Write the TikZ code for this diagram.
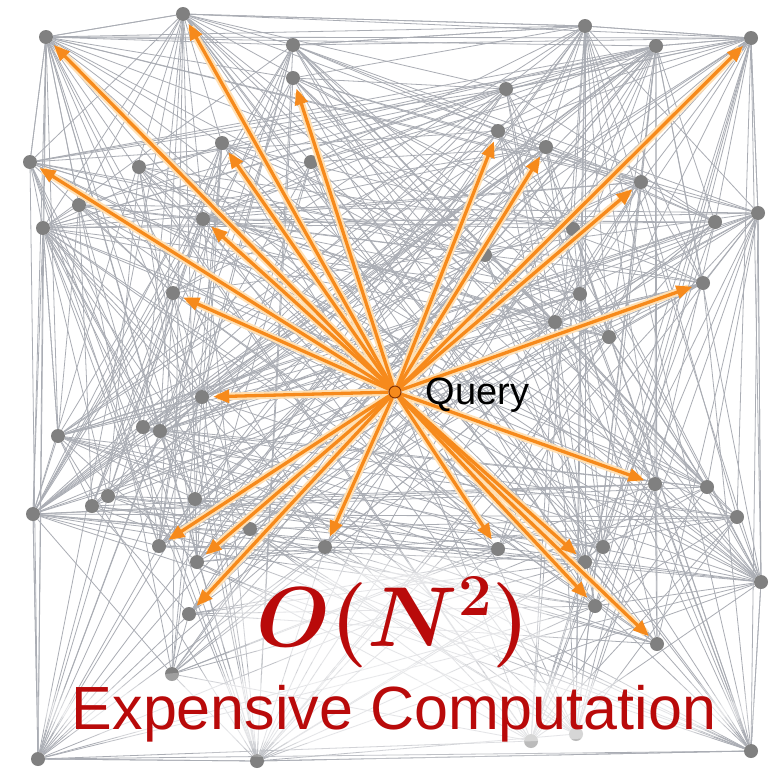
\RequirePackage{fix-cm}
\documentclass[tikz,border=0pt]{standalone}
\usepackage{fontspec}
\newfontfamily\arial{Liberation Sans}
\usetikzlibrary{arrows.meta}
\pgfdeclarelayer{bg}
\pgfdeclarelayer{edges}
\pgfdeclarelayer{glow}
\pgfdeclarelayer{arrowlayer}
\pgfdeclarelayer{front}
\pgfsetlayers{bg,edges,main,glow,arrowlayer,front}
\definecolor{nodegray}{RGB}{128,128,128}
\definecolor{edgegray}{RGB}{170,173,180}
\definecolor{qorange}{RGB}{246,138,28}
\definecolor{halo}{RGB}{255,224,180}
\definecolor{darkred}{RGB}{185,10,10}
\definecolor{qedge}{RGB}{140,55,0}
\tikzset{
  gnode/.style={circle,fill=nodegray,inner sep=0pt,minimum size=14pt},
  qnode/.style={circle,fill=qorange,draw=qedge,line width=1.1pt,inner sep=0pt,minimum size=12pt},
  edge/.style={draw=edgegray,line width=0.8pt},
  qarrow/.style={draw=qorange,line width=3.3pt,-{Triangle[length=16pt,width=13pt]},shorten >=4pt},
  qhalo/.style={draw=halo,line width=7.5pt,shorten >=8pt},
  glowfill/.style={fill=white,opacity=#1},
}
\begin{document}
\begin{tikzpicture}[x=1pt,y=-1pt]
\begin{pgfonlayer}{bg}
\fill[white] (0,0) rectangle (777,769);
\end{pgfonlayer}
\useasboundingbox (0,0) rectangle (777,769);
% gray nodes: index/x/y/weight
\foreach \i/\x/\y/\w in {
1/46/37/0.9, 2/183/14/0.9, 3/293/45/0.9, 4/293/78/0.5, 5/222/143/0.5,
6/30/162/0.9, 7/139/167/0.5, 8/311/162/0.5, 9/79/205/0.5, 10/203/219/0.5,
11/43/228/0.9, 12/173/293/0.5, 13/585/26/0.9, 14/656/46/0.9, 15/751/38/0.9,
16/506/89/0.5, 17/498/131/0.5, 18/546/147/0.5, 19/641/182/0.5, 20/758/213/0.9,
21/715/222/0.5, 22/573/229/0.5, 23/485/255/0.5, 24/703/283/0.5, 25/580/294/0.5,
26/555/322/0.5, 27/609/337/0.5, 28/202/397/0.5, 29/58/436/0.9, 30/160/431/0.5,
31/143/427/0.5, 32/33/514/0.9, 33/92/506/0.5, 34/108/496/0.5, 35/195/499/0.5,
36/159/546/0.5, 37/250/529/0.5, 38/325/547/0.5, 39/197/562/0.5, 40/189/614/0.5,
41/172/674/0.5, 42/38/759/0.9, 43/257/761/0.9, 44/655/484/0.5, 45/707/487/0.5,
46/737/517/0.5, 47/603/547/0.5, 48/585/562/0.5, 49/498/549/0.5, 50/761/582/0.9,
51/595/606/0.5, 52/657/644/0.5, 53/751/751/0.9, 54/531/741/0.5, 55/576/734/0.5}{
  \node[gnode] (n\i) at (\x,\y) {};
  \expandafter\xdef\csname w\i\endcsname{\w}
}
% gray connectors
\pgfmathsetseed{4242}
\begin{pgfonlayer}{edges}
\foreach \i in {1,...,54}{
  \pgfmathtruncatemacro\jstart{\i+1}
  \foreach \j in {\jstart,...,55}{
    \pgfmathsetmacro\pp{\csname w\i\endcsname*\csname w\j\endcsname*0.85}
    \pgfmathsetmacro\rr{rnd}
    \ifdim\rr pt<\pp pt \draw[edge] (n\i) -- (n\j);\fi
  }
}
\foreach \a/\b in {1/2,2/13,13/15,1/6,6/11,11/29,29/32,32/42,42/43,43/53,15/20,20/50,50/53,3/13,14/15}
  \draw[edge] (n\a) -- (n\b);
\end{pgfonlayer}
% soft white glow behind the texts
\begin{pgfonlayer}{glow}
\fill[glowfill=0.25] (393,622) ellipse [x radius=180, y radius=72];
\fill[glowfill=0.3] (393,622) ellipse [x radius=155, y radius=60];
\fill[glowfill=0.4] (393,622) ellipse [x radius=135, y radius=50];
\fill[glowfill=0.25] (394,712) ellipse [x radius=375, y radius=48];
\fill[glowfill=0.3] (394,712) ellipse [x radius=350, y radius=40];
\fill[glowfill=0.4] (394,712) ellipse [x radius=335, y radius=32];
\end{pgfonlayer}
% query node and texts
\begin{pgfonlayer}{front}
\node[qnode] (q) at (395,392) {};
\node[anchor=base west,font=\arial\fontsize{38}{42}\selectfont] (qlabel) at (422,404) {Query};
\node[anchor=base,text=darkred,font=\fontsize{85}{95}\selectfont\boldmath] (cost) at (393,646) {$O(N^2)$};
\node[anchor=base,text=darkred,font=\arial\fontsize{61}{70}\selectfont] (ec) at (394,729) {Expensive Computation};
\end{pgfonlayer}
% orange arrows
\begin{pgfonlayer}{arrowlayer}
\foreach \t in {1,2,4,5,6,10,12,28,17,18,15,19,24,36,39,40,38,44,49,48,51,52}
  \draw[qhalo] (q) -- (n\t);
\foreach \t in {1,2,4,5,6,10,12,28,17,18,15,19,24,36,39,40,38,44,49,48,51,52}
  \draw[qarrow] (q) -- (n\t);
\end{pgfonlayer}
\end{tikzpicture}
\end{document}
